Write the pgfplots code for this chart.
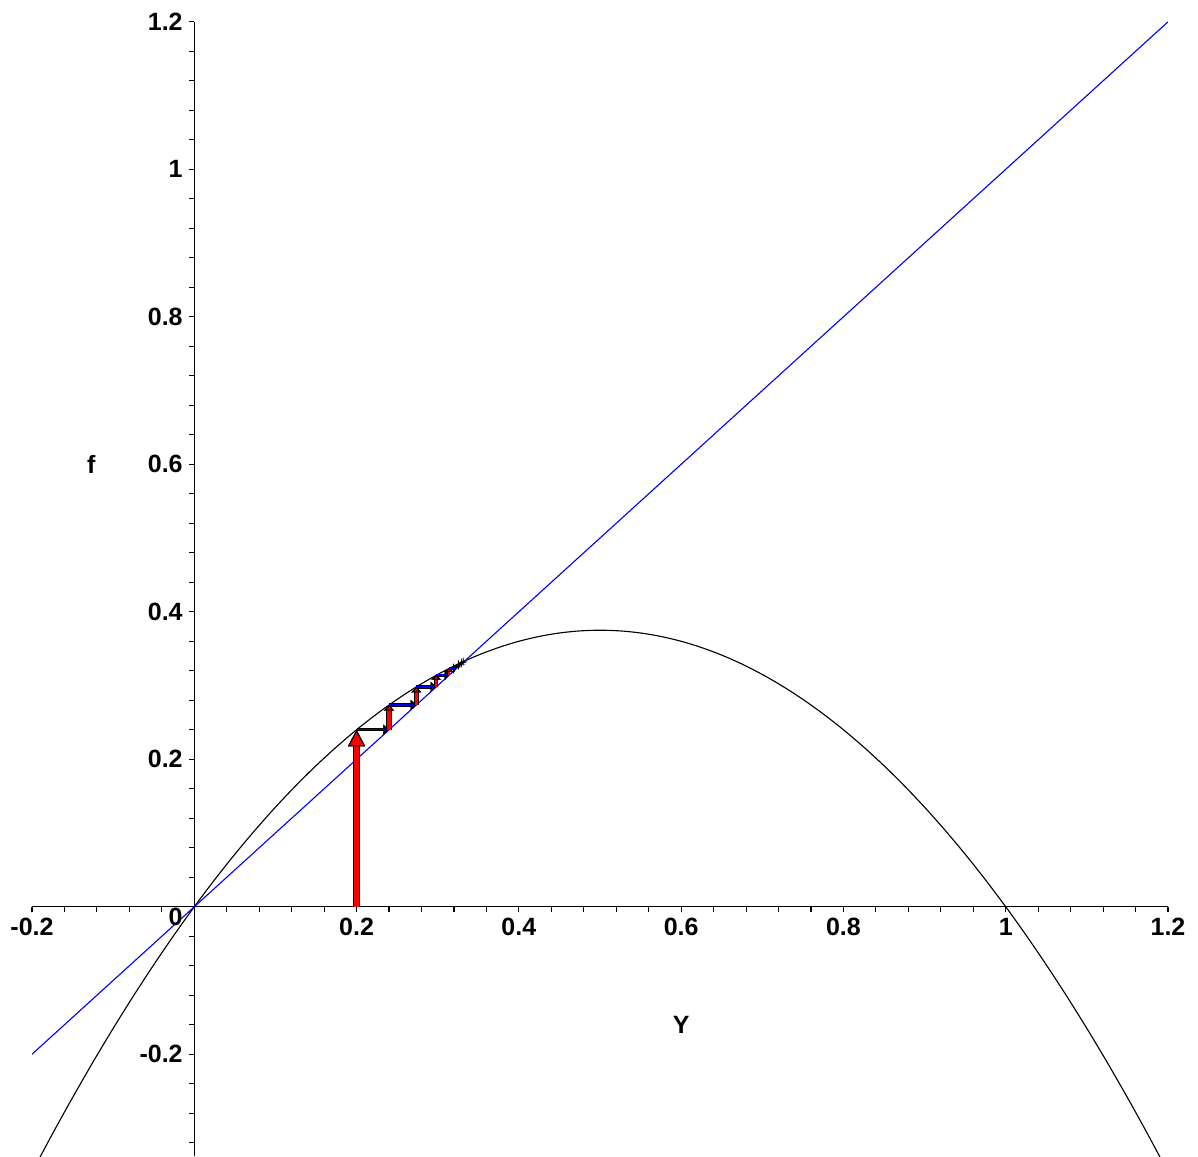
\documentclass[border=0pt]{standalone}
\usepackage{fontspec}
\setmainfont{Liberation Sans}
\usepackage{pgfplots}
\pgfplotsset{compat=1.18}
\usetikzlibrary{arrows.meta}
\newcommand\arr[9]{%
\addplot[black, line width=#7, -{Triangle[length=#8,width=#9,line width=0.4pt]}] coordinates {(#1,#2) (#3,#4)};
\addplot[#5, line width=#6, -{Triangle[length=#8,width=#9,line width=0.4pt,fill=#5,color=black]}] coordinates {(#1,#2) (#3,#4)};
}
\newcommand\tarr[5]{%
\addplot[black, line width=0.4pt, -{Triangle[length=#5,width=3.6pt,line width=0.4pt]}] coordinates {(#1,#2) (#3,#4)};
}
\begin{document}
\begin{tikzpicture}
\begin{axis}[
 scale only axis, width=408.96pt, height=408.3pt,
 xmin=-0.2, xmax=1.2, ymin=-0.338, ymax=1.2,
 axis lines=middle, axis line style={-, line width=0.4pt, black},
 xtick={-0.2,0.2,0.4,0.6,0.8,1,1.2}, xticklabels={-0.2,0.2,0.4,0.6,0.8,1,1.2},
 ytick={-0.2,0.2,0.4,0.6,0.8,1,1.2}, yticklabels={-0.2,0.2,0.4,0.6,0.8,1,1.2},
 minor xtick={-0.2,-0.16,...,1.21},
 minor ytick={-0.32,-0.28,...,1.21},
 tick align=outside, major tick length=2pt, minor tick length=2pt,
 every tick/.style={black, line width=0.4pt},
 tick label style={font=\fontsize{9}{10}\selectfont\bfseries},
 xticklabel style={anchor=north, inner sep=0pt, yshift=-2pt},
 yticklabel style={anchor=east, inner sep=0pt, xshift=-2pt},
 clip=true,
]
\addplot[black, line width=0.4pt, smooth] coordinates {
(-0.2,-0.36) (-0.175,-0.3084375) (-0.15,-0.25875) (-0.125,-0.2109375)
(-0.1,-0.165) (-0.075,-0.1209375) (-0.05,-0.07875) (-0.025,-0.0384375) (0,0)
(0.025,0.0365625) (0.05,0.07125) (0.075,0.1040625) (0.1,0.135) (0.125,0.1640625)
(0.15,0.19125) (0.175,0.2165625) (0.2,0.24) (0.225,0.2615625) (0.25,0.28125)
(0.275,0.2990625) (0.3,0.315) (0.325,0.3290625) (0.35,0.34125) (0.375,0.3515625)
(0.4,0.36) (0.425,0.3665625) (0.45,0.37125) (0.475,0.3740625) (0.5,0.375)
(0.525,0.3740625) (0.55,0.37125) (0.575,0.3665625) (0.6,0.36) (0.625,0.3515625)
(0.65,0.34125) (0.675,0.3290625) (0.7,0.315) (0.725,0.2990625) (0.75,0.28125)
(0.775,0.2615625) (0.8,0.24) (0.825,0.2165625) (0.85,0.19125) (0.875,0.1640625)
(0.9,0.135) (0.925,0.1040625) (0.95,0.07125) (0.975,0.0365625) (1.0,0)
(1.025,-0.0384375) (1.05,-0.07875) (1.075,-0.1209375) (1.1,-0.165) (1.125,-0.2109375)
(1.15,-0.25875) (1.175,-0.3084375) (1.2,-0.36)};
\addplot[blue, line width=0.4pt] coordinates {(-0.2,-0.2) (1.2,1.2)};
\arr{0.2}{0}{0.2}{0.24}{red}{1.5pt}{2.3pt}{6pt}{6.2pt}
\arr{0.2}{0.24}{0.24}{0.24}{blue}{0.5pt}{1.1pt}{2pt}{3.6pt}
\arr{0.24}{0.24}{0.24}{0.2736}{red}{1.2pt}{1.9pt}{2pt}{3.6pt}
\arr{0.24}{0.2736}{0.2736}{0.2736}{blue}{1.0pt}{1.6pt}{2pt}{3.6pt}
\arr{0.2736}{0.2736}{0.2736}{0.298115}{red}{1.0pt}{1.6pt}{2pt}{3.6pt}
\arr{0.2736}{0.298115}{0.298115}{0.298115}{blue}{0.9pt}{1.5pt}{2pt}{3.6pt}
\arr{0.298115}{0.298115}{0.298115}{0.313863}{red}{0.8pt}{1.4pt}{1.6pt}{3.6pt}
\arr{0.298115}{0.313863}{0.313863}{0.313863}{blue}{0.7pt}{1.2pt}{1.6pt}{3.6pt}
\arr{0.313863}{0.313863}{0.313863}{0.32303}{red}{0.6pt}{1.1pt}{1.2pt}{3.6pt}
\arr{0.313863}{0.32303}{0.32303}{0.32303}{blue}{0.5pt}{1.0pt}{1.2pt}{3.6pt}
\tarr{0.32303}{0.32303}{0.32303}{0.328022}{0.8pt}
\tarr{0.32303}{0.328022}{0.328022}{0.328022}{0.8pt}
\tarr{0.328022}{0.328022}{0.328022}{0.330636}{0.5pt}
\tarr{0.328022}{0.330636}{0.330636}{0.330636}{0.5pt}
\tarr{0.330636}{0.330636}{0.330636}{0.331974}{0.3pt}
\tarr{0.330636}{0.331974}{0.331974}{0.331974}{0.3pt}
\tarr{0.331974}{0.331974}{0.331974}{0.332651}{0.2pt}
\tarr{0.331974}{0.332651}{0.332651}{0.332651}{0.2pt}
\node[anchor=north east, inner sep=0pt, xshift=-4pt, yshift=-0.4pt, font=\fontsize{9}{10}\selectfont\bfseries] at (axis cs:0,0) {0};
\node[font=\fontsize{9}{10}\selectfont\bfseries] at (axis cs:0.6,-0.16) {Y};
\node[font=\fontsize{9}{10}\selectfont\bfseries] at (axis cs:-0.127,0.6) {f};
\end{axis}
\pgfresetboundingbox
\useasboundingbox ([xshift=-11.52pt]current axis.south west) rectangle ([xshift=419.76pt, yshift=416.16pt]current axis.south west);
\end{tikzpicture}
\end{document}
